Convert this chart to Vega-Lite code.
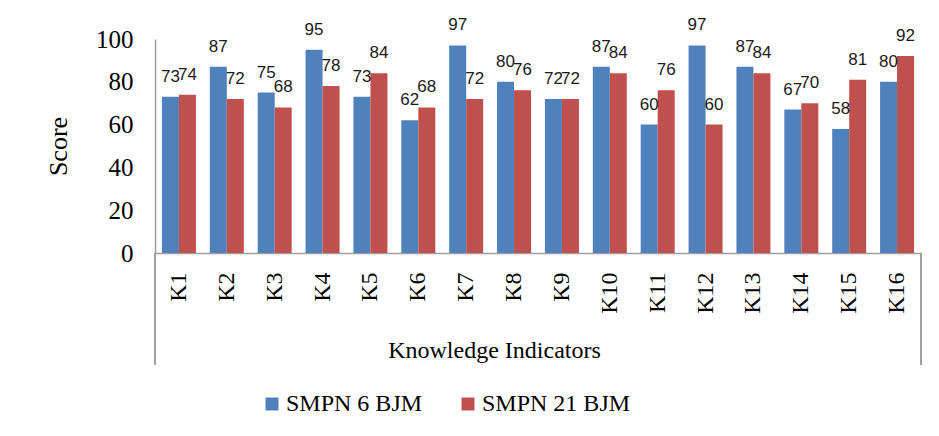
{
  "$schema": "https://vega.github.io/schema/vega-lite/v6.json",
  "width": 766,
  "height": 214,
  "autosize": "none",
  "padding": {"left": 155, "top": 39, "right": 18, "bottom": 183},
  "background": "white",
  "config": {"view": {"stroke": null}},
  "data": {
    "values": [
      {"k": "K1", "school": "SMPN 6 BJM", "score": 73}, {"k": "K1", "school": "SMPN 21 BJM", "score": 74},
      {"k": "K2", "school": "SMPN 6 BJM", "score": 87}, {"k": "K2", "school": "SMPN 21 BJM", "score": 72},
      {"k": "K3", "school": "SMPN 6 BJM", "score": 75}, {"k": "K3", "school": "SMPN 21 BJM", "score": 68},
      {"k": "K4", "school": "SMPN 6 BJM", "score": 95}, {"k": "K4", "school": "SMPN 21 BJM", "score": 78},
      {"k": "K5", "school": "SMPN 6 BJM", "score": 73}, {"k": "K5", "school": "SMPN 21 BJM", "score": 84},
      {"k": "K6", "school": "SMPN 6 BJM", "score": 62}, {"k": "K6", "school": "SMPN 21 BJM", "score": 68},
      {"k": "K7", "school": "SMPN 6 BJM", "score": 97}, {"k": "K7", "school": "SMPN 21 BJM", "score": 72},
      {"k": "K8", "school": "SMPN 6 BJM", "score": 80}, {"k": "K8", "school": "SMPN 21 BJM", "score": 76},
      {"k": "K9", "school": "SMPN 6 BJM", "score": 72}, {"k": "K9", "school": "SMPN 21 BJM", "score": 72},
      {"k": "K10", "school": "SMPN 6 BJM", "score": 87}, {"k": "K10", "school": "SMPN 21 BJM", "score": 84},
      {"k": "K11", "school": "SMPN 6 BJM", "score": 60}, {"k": "K11", "school": "SMPN 21 BJM", "score": 76},
      {"k": "K12", "school": "SMPN 6 BJM", "score": 97}, {"k": "K12", "school": "SMPN 21 BJM", "score": 60},
      {"k": "K13", "school": "SMPN 6 BJM", "score": 87}, {"k": "K13", "school": "SMPN 21 BJM", "score": 84},
      {"k": "K14", "school": "SMPN 6 BJM", "score": 67}, {"k": "K14", "school": "SMPN 21 BJM", "score": 70},
      {"k": "K15", "school": "SMPN 6 BJM", "score": 58}, {"k": "K15", "school": "SMPN 21 BJM", "score": 81},
      {"k": "K16", "school": "SMPN 6 BJM", "score": 80}, {"k": "K16", "school": "SMPN 21 BJM", "score": 92}
    ]
  },
  "encoding": {
    "x": {
      "field": "k", "type": "nominal", "sort": null,
      "scale": {"paddingInner": 0.29, "paddingOuter": 0.145},
      "axis": {
        "title": "Knowledge Indicators",
        "labelAngle": -90,
        "labelFont": "Liberation Serif", "labelFontSize": 24, "labelColor": "black",
        "domainColor": "#a0a0a0", "domainWidth": 1.5,
        "ticks": false,
        "labelPadding": 19,
        "titleFont": "Liberation Serif", "titleFontSize": 24, "titleFontWeight": "normal", "titleColor": "black",
        "titleX": 339, "titleY": 85, "titleBaseline": "top"
      }
    },
    "y": {
      "field": "score", "type": "quantitative",
      "scale": {"domain": [0, 100]},
      "axis": {
        "title": "Score", "values": [0, 20, 40, 60, 80, 100], "grid": false, "ticks": false,
        "domainColor": "#a0a0a0", "domainWidth": 1.5,
        "labelFont": "Liberation Serif", "labelFontSize": 25, "labelColor": "black", "labelPadding": 22,
        "titleFont": "Liberation Serif", "titleFontSize": 26, "titleFontWeight": "normal", "titleColor": "black",
        "titlePadding": 24
      }
    }
  },
  "layer": [
    {
      "mark": {"type": "bar"},
      "encoding": {
        "xOffset": {"field": "school", "type": "nominal", "sort": ["SMPN 6 BJM", "SMPN 21 BJM"]},
        "color": {
          "field": "school", "type": "nominal", "sort": ["SMPN 6 BJM", "SMPN 21 BJM"],
          "scale": {"domain": ["SMPN 6 BJM", "SMPN 21 BJM"], "range": ["#4F81BD", "#C0504D"]},
          "legend": {
            "title": null, "orient": "none", "direction": "horizontal",
            "legendX": 105, "legendY": 353,
            "symbolType": "square", "symbolSize": 169, "symbolStrokeWidth": 0,
            "labelFont": "Liberation Serif", "labelFontSize": 24, "labelColor": "black",
            "labelOffset": 2, "columnPadding": 33
          }
        }
      }
    },
    {
      "mark": {"type": "text", "dy": -15, "baseline": "alphabetic", "font": "Liberation Sans", "fontSize": 17, "color": "#1a1a1a"},
      "encoding": {
        "xOffset": {"field": "school", "type": "nominal", "sort": ["SMPN 6 BJM", "SMPN 21 BJM"]},
        "text": {"field": "score", "type": "quantitative"}
      }
    },
    {
      "mark": {"type": "rule", "color": "#a0a0a0", "strokeWidth": 1.5},
      "encoding": {
        "x": {"datum": "K1", "bandPosition": -0.204},
        "y": {"datum": 0},
        "y2": {"datum": -52.3}
      }
    },
    {
      "mark": {"type": "rule", "color": "#a0a0a0", "strokeWidth": 1.5},
      "encoding": {
        "x": {"datum": "K16", "bandPosition": 1.204},
        "y": {"datum": 0},
        "y2": {"datum": -52.3}
      }
    }
  ]
}
